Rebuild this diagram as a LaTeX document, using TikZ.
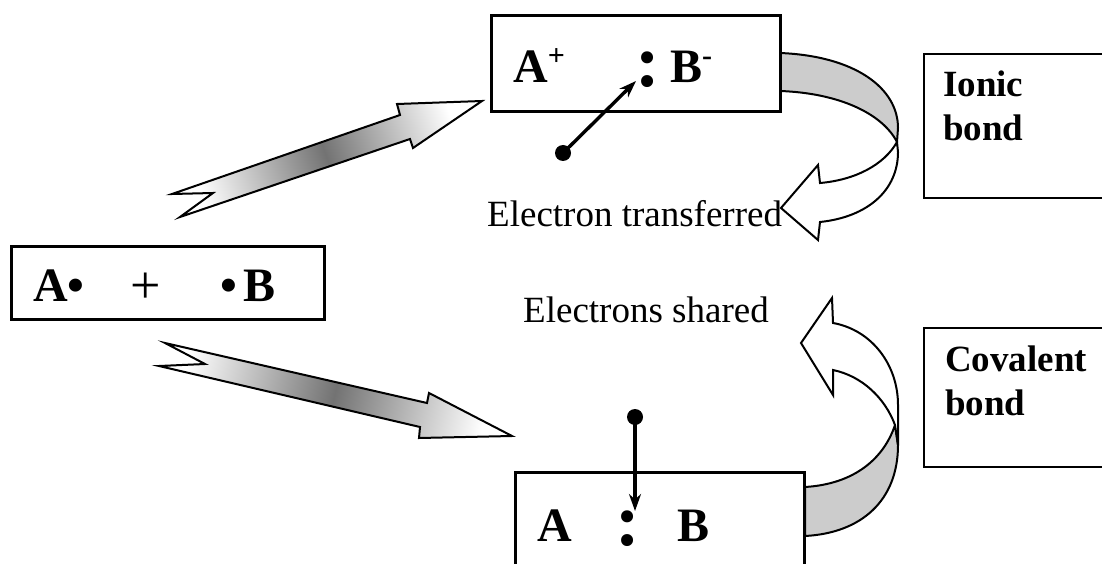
\documentclass[tikz,border=0pt]{standalone}
\usepackage{fontspec}
\setmainfont{Liberation Serif}
\usetikzlibrary{arrows.meta,positioning}

\newcommand{\charge}[1]{\raisebox{17pt}{\fontsize{30}{30}\selectfont #1}}

\begin{document}
\begin{tikzpicture}[x=1pt,y=-1pt,
    thickbox/.style={draw=black,line width=3pt,inner sep=0pt,anchor=north west},
    thinbox/.style={draw=black,line width=2pt,inner sep=0pt,anchor=north west},
    atom/.style={font=\fontsize{48}{56}\selectfont\bfseries,inner sep=0pt,anchor=base west},
    pair/.style={font=\fontsize{74}{76}\selectfont\bfseries,inner sep=0pt,anchor=base},
    caption/.style={font=\fontsize{37}{44}\selectfont,inner sep=0pt,anchor=base west},
    bondtxt/.style={font=\fontsize{37}{44}\selectfont\bfseries,inner sep=0pt,anchor=base west,align=left},
    electron/.style={circle,fill=black,inner sep=0pt,minimum size=16pt},
    hop/.style={line width=3.4pt,-{Stealth[length=17pt,width=12pt]}},
    fatarrow/.style={draw=black,line width=2pt,line join=miter,left color=white,right color=white,middle color=black!55},
    ribbon/.style={draw=black,line width=2pt,fill=gray!40},
    ribbontip/.style={draw=black,line width=2pt,fill=white}]
  \useasboundingbox (0,0) rectangle (1102,564);

  \path[fatarrow,shading angle=109] (172,194) -- (400,115) -- (397,104) -- (482,101)
    -- (413,148) -- (410,139) -- (180,217) -- (213,193) -- cycle;
  \path[fatarrow,shading angle=77] (165,343) -- (427,403) -- (429,393) -- (512,436)
    -- (419,438) -- (420,427) -- (159,366) -- (205,364) -- cycle;

  % ribbon arrows beside the two product boxes
  \path[ribbon] (780,53) .. controls (855,56) and (898,88) .. (898,128) -- (897,142)
    .. controls (882,113) and (838,93) .. (780,91) -- cycle;
  \path[ribbontip] (897,142) .. controls (884,165) and (855,180) .. (820,183) -- (818,165)
    -- (781,208) -- (818,240) -- (820,222) .. controls (868,217) and (898,190) .. (898,152) -- cycle;
  \path[ribbon] (805,487) .. controls (855,484) and (884,458) .. (895,425) -- (898,445)
    .. controls (898,500) and (862,533) .. (805,536) -- cycle;
  \path[ribbontip] (895,425) .. controls (885,398) and (862,376) .. (833,370) -- (833,395)
    -- (801,343) -- (832,298) -- (833,323) .. controls (872,330) and (898,365) .. (898,405) -- (898,445) -- cycle;

  \node[thickbox,minimum width=313,minimum height=73] (start) at (10,245) {};
  \node[thickbox,minimum width=289,minimum height=96] (ionbox) at (490,14) {};
  \node[thickbox,minimum width=289,minimum height=130] (covbox) at (514,471) {};
  \node[thinbox,minimum width=220,minimum height=144] (ionicbox) at (923,53) {};
  \node[thinbox,minimum width=220,minimum height=139] (covalentbox) at (923,327) {};

  \node[atom] (startA) at (33,301) {A•};
  \node[atom,font=\fontsize{54}{56}\selectfont] (plus) at (130,303) {+};
  \node[atom] (startB) at (220,301) {•\hspace{7pt}B};

  \node[atom] (ionA) at (513,83) {A\charge{+}};
  \node[pair] (ionpair) at (648,87) {:};
  \node[atom] (ionB) at (670,83) {B\charge{\bfseries -}};

  \node[atom] (covA) at (537,541) {A};
  \node[pair] (covpair) at (628,545) {:};
  \node[atom] (covB) at (677,541) {B};

  \node[caption] (transfer) at (487,226) {Electron transferred};
  \node[caption] (share) at (523,322) {Electrons shared};

  \node[bondtxt] (ionic) at (943,141) {Ionic\\bond};
  \node[bondtxt] (covalent) at (945,415) {Covalent\\bond};

  \node[electron] (e1) at (563,153) {};
  \coordinate (e1end) at (636,81);
  \draw[hop] (e1.center) -- (e1end);
  \node[electron] (e2) at (635,417) {};
  \coordinate (e2end) at (635,511);
  \draw[hop] (e2.center) -- (e2end);
\end{tikzpicture}
\end{document}
